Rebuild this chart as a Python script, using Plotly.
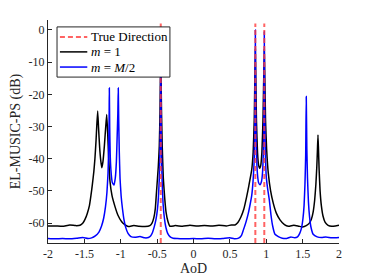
import plotly.graph_objects as go

# ---- data ----
true_aod = [-0.45, 0.85, 0.973]
true_top = 2.0

m1_x = [-2.00, -1.90, -1.80, -1.70, -1.62, -1.56, -1.52, -1.49, -1.46, -1.43, -1.41, -1.39, -1.37, -1.355, -1.34, -1.33,
        -1.317, -1.305, -1.29, -1.275, -1.26, -1.245, -1.225, -1.208, -1.193, -1.18, -1.165, -1.148,
        -1.12, -1.079, -1.04, -0.987, -0.94, -0.896, -0.82, -0.75, -0.667, -0.60, -0.57, -0.545, -0.525,
        -0.506, -0.484, -0.47, -0.46, -0.45, -0.44, -0.43, -0.415, -0.395, -0.378, -0.35, -0.323,
        -0.25, -0.15, -0.05, 0.05, 0.15, 0.25, 0.35, 0.45, 0.52, 0.57, 0.61, 0.65, 0.69, 0.731,
        0.76, 0.80, 0.82, 0.835, 0.85, 0.865, 0.88, 0.895, 0.91, 0.925, 0.94, 0.955, 0.973, 0.99,
        1.005, 1.028, 1.06, 1.097, 1.14, 1.189, 1.25, 1.303, 1.38, 1.45, 1.50, 1.55, 1.59, 1.62,
        1.645, 1.665, 1.682, 1.695, 1.704, 1.711, 1.718, 1.727, 1.74, 1.757, 1.78, 1.81, 1.85, 1.90, 1.95, 2.00]
m1_y = [-60.9, -60.9, -61.0, -60.6, -60.8, -60.7, -60.0, -58.8, -57.0, -54.5, -51.5, -48.0, -44.0, -40.0, -34.5, -30.0,
        -25.2, -30.5, -36.5, -40.5, -42.8, -41.0, -36.0, -30.5, -26.3, -32.0, -40.0, -47.0,
        -51.5, -54.9, -57.5, -59.6, -60.6, -61.1, -60.8, -61.0, -61.1, -60.8, -60.0, -58.3, -55.5,
        -49.5, -42.5, -36.0, -25.0, -8.0, -25.0, -36.0, -46.0, -52.5, -56.5, -59.6, -61.0,
        -60.8, -61.0, -60.7, -60.9, -60.8, -60.9, -60.7, -60.9, -60.6, -60.6, -59.8, -58.2, -55.8, -51.8,
        -48.5, -43.5, -38.0, -28.0, -6.0, -28.0, -38.0, -42.0, -43.0, -42.0, -38.0, -28.0, -6.0, -28.0,
        -37.0, -44.5, -50.0, -53.9, -57.0, -59.0, -60.5, -61.0, -60.7, -61.0, -61.2, -60.8, -60.1, -58.8,
        -56.5, -53.0, -48.0, -42.5, -37.0, -32.6, -37.0, -43.5, -50.0, -54.5, -57.8, -59.8, -60.7, -61.0, -60.9, -60.7]

mh_x = [-2.00, -1.90, -1.80, -1.70, -1.60, -1.52, -1.45, -1.40, -1.35, -1.30, -1.265, -1.235, -1.21, -1.19,
        -1.175, -1.166, -1.16, -1.157, -1.152, -1.144, -1.13, -1.115, -1.093, -1.075, -1.06, -1.048,
        -1.04, -1.034, -1.028, -1.02, -1.01, -0.995, -0.975, -0.955, -0.93, -0.90, -0.86, -0.804, -0.735,
        -0.67, -0.62, -0.59, -0.565, -0.54, -0.515, -0.497, -0.482, -0.47, -0.46, -0.454, -0.45, -0.446,
        -0.44, -0.43, -0.418, -0.40, -0.38, -0.355, -0.32, -0.28, -0.22, -0.12, 0.00, 0.10, 0.20, 0.30, 0.40,
        0.50, 0.56, 0.62, 0.66, 0.685, 0.72, 0.753, 0.78, 0.80, 0.82, 0.835, 0.845, 0.85, 0.855,
        0.865, 0.88, 0.895, 0.914, 0.935, 0.95, 0.962, 0.968, 0.973, 0.978, 0.99, 1.00, 1.02,
        1.042, 1.065, 1.089, 1.12, 1.166, 1.22, 1.28, 1.34, 1.39, 1.43, 1.46, 1.485, 1.505, 1.52,
        1.532, 1.542, 1.55, 1.558, 1.567, 1.58, 1.595, 1.615, 1.645, 1.70, 1.76, 1.82, 1.90, 2.00]
mh_y = [-64.8, -64.9, -64.8, -64.9, -64.7, -64.5, -64.8, -64.6, -64.0, -62.8, -61.0, -58.5, -55.0, -50.5,
        -44.5, -37.0, -28.0, -18.0, -30.0, -39.5, -45.0, -47.5, -48.2, -46.0, -41.0, -32.0,
        -26.0, -18.0, -28.0, -38.0, -46.0, -51.5, -55.8, -59.0, -61.5, -63.2, -64.2, -64.4, -64.2,
        -64.6, -64.5, -64.0, -63.0, -61.2, -58.8, -56.0, -52.0, -46.0, -36.0, -26.0, -5.0, -26.0,
        -38.0, -48.0, -54.0, -58.5, -61.3, -63.2, -64.3, -64.7, -64.8, -64.9, -64.8, -64.9, -64.7, -64.9, -64.8,
        -64.6, -64.9, -64.7, -63.8, -62.2, -59.8, -57.0, -54.0, -51.5, -46.5, -40.0, -25.0, 0.0, -25.0,
        -38.0, -45.0, -47.5, -48.1, -47.0, -44.0, -36.0, -25.0, -0.5, -25.0, -40.0, -45.5, -49.5,
        -52.8, -57.5, -61.0, -63.5, -64.2, -64.7, -64.8, -64.3, -64.6, -64.3, -63.2, -61.5, -58.5, -54.5,
        -48.0, -39.0, -20.7, -37.0, -46.0, -53.5, -58.0, -61.3, -63.5, -64.3, -64.5, -64.3, -64.6, -64.5]

x_ticks = [-2, -1.5, -1, -0.5, 0, 0.5, 1, 1.5, 2]
x_tick_text = ["-2", "-1.5", "-1", "-0.5", "0", "0.5", "1", "1.5", "2"]
y_ticks = [-60, -50, -40, -30, -20, -10, 0]
y_tick_text = ["-60", "-50", "-40", "-30", "-20", "-10", "0"]
y_range = [-66.2, 3.1]
x_range = [-2, 2]

legend_labels = ["True Direction", "<i>m</i> = 1", "<i>m</i> = <i>M</i>/2"]

# ---- styles ----
serif = "Liberation Serif, Times New Roman, serif"
axis_col = "#262626"
red_line = dict(color="rgba(255,60,60,0.8)", width=2, dash="5px,3px")
black_line = dict(color="black", width=1.5)
blue_line = dict(color="#0000ff", width=1.5)

tx, ty = [], []
for a in true_aod:
    tx += [a, a, None]
    ty += [y_range[0], true_top, None]

fig = go.Figure()
fig.add_trace(go.Scatter(x=m1_x, y=m1_y, mode="lines", name=legend_labels[1],
                         line=dict(**black_line, shape="spline", smoothing=0.4)))
fig.add_trace(go.Scatter(x=mh_x, y=mh_y, mode="lines", name=legend_labels[2],
                         line=dict(**blue_line, shape="spline", smoothing=0.4)))
fig.add_trace(go.Scatter(x=tx, y=ty, mode="lines", name=legend_labels[0], line=red_line))

# ---- legend box drawn in paper coordinates (MATLAB-style, compact) ----
box = dict(x0=0.031, x1=0.419, y0=0.744, y1=0.969)
rows = [0.924, 0.857, 0.789]
styles = [red_line, black_line, blue_line]
fig.add_shape(type="rect", xref="paper", yref="paper", layer="above",
              fillcolor="white", line=dict(color=axis_col, width=1), **box)
for yr, st, lab in zip(rows, styles, legend_labels):
    fig.add_shape(type="line", xref="paper", yref="paper", layer="above",
                  x0=0.041, x1=0.135, y0=yr, y1=yr, line=st)
    fig.add_annotation(xref="paper", yref="paper", x=0.142, y=yr, text=lab,
                       showarrow=False, xanchor="left", yanchor="middle",
                       font=dict(family=serif, size=13, color="black"))

tickfont = dict(family=serif, size=12, color=axis_col)
fig.update_layout(
    width=374, height=280,
    margin=dict(l=48, r=35, t=20, b=37),
    paper_bgcolor="white", plot_bgcolor="white",
    font=dict(family=serif, size=12, color=axis_col),
    showlegend=False,
    xaxis=dict(range=x_range, tickvals=x_ticks, ticktext=x_tick_text, automargin=False,
               ticks="inside", ticklen=4, tickcolor=axis_col, tickfont=tickfont,
               showline=True, linecolor=axis_col, linewidth=1, mirror=False,
               showgrid=False, zeroline=False,
               title=dict(text="AoD", font=dict(family=serif, size=14), standoff=2)),
    yaxis=dict(range=y_range, tickvals=y_ticks, ticktext=y_tick_text, automargin=False,
               ticks="inside", ticklen=4, tickcolor=axis_col, tickfont=tickfont,
               showline=True, linecolor=axis_col, linewidth=1, mirror=False,
               showgrid=False, zeroline=False,
               title=dict(text="EL-MUSIC-PS (dB)", font=dict(family=serif, size=14), standoff=4)),
)

fig.write_html("out.html", config={"displayModeBar": False},
               post_script="document.body.style.margin='0px';document.body.style.overflow='hidden';")
